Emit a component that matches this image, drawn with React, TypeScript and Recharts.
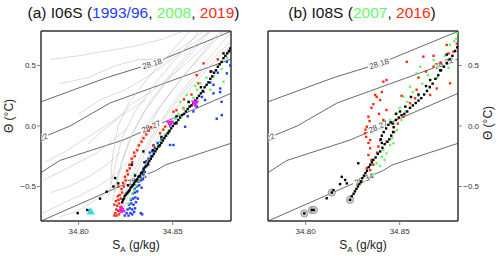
import React from 'react';
import { ComposedChart, Line, ReferenceArea, Scatter, XAxis, YAxis } from 'recharts';

const FONT = '"Liberation Sans", Arial, Helvetica, sans-serif';

// axes
const SA_DOMAIN: [number, number] = [34.78, 34.881];
const T_DOMAIN: [number, number] = [-0.785, 0.785];
const SA_TICKS = [34.8, 34.85];
const T_TICKS = [-0.5, 0, 0.5];
const PLOT_PX = 190;

// neutral density contours [SA, Θ]
const g2818 = [[34.77, 0.13], [34.78, 0.2], [34.815, 0.4], [34.84, 0.52], [34.8806, 0.78], [34.89, 0.84]];
const g2822 = [[34.77, -0.16], [34.78, -0.1], [34.7954, 0.0], [34.8167, 0.19], [34.8806, 0.55], [34.89, 0.6]];
const g2827 = [[34.77, -0.47], [34.78, -0.385], [34.79, -0.285], [34.8236, -0.116], [34.881, 0.27], [34.89, 0.33]];
const g2834 = [[34.77, -0.85], [34.78, -0.785], [34.8415, -0.365], [34.846, -0.322], [34.881, -0.143], [34.89, -0.1]];
const contours: Record<string, number[][]> = { '28.18': g2818, '28.22': g2822, '28.27': g2827, '28.34': g2834 };

const labelsA = [
  { c: '28.18', x: 34.839, y: 0.515, text: '28.18' },
  { c: '28.22', x: 34.7812, y: -0.092, text: '22' },
  { c: '28.27', x: 34.8385, y: -0.005, text: '28.27' },
  { c: '28.34', x: 34.831, y: -0.44, text: '28.34' },
];
const labelsB = [
  { c: '28.18', x: 34.839, y: 0.515, text: '28.18' },
  { c: '28.22', x: 34.7812, y: -0.092, text: '22' },
  { c: '28.22', x: 34.8735, y: 0.52, text: '28.22' },
  { c: '28.27', x: 34.8385, y: -0.005, text: '28.27' },
  { c: '28.34', x: 34.831, y: -0.44, text: '28.34' },
];

// I06S historical profiles (gray)
const profilesA = [
  [[34.8215, -0.7], [34.826, -0.5], [34.833, -0.25], [34.842, 0.0], [34.853, 0.25], [34.866, 0.5], [34.878, 0.72], [34.883, 0.8]],
  [[34.82, -0.66], [34.824, -0.45], [34.83, -0.2], [34.838, 0.05], [34.85, 0.3], [34.863, 0.55], [34.874, 0.76], [34.88, 0.82]],
  [[34.818, -0.62], [34.821, -0.4], [34.826, -0.15], [34.834, 0.1], [34.846, 0.35], [34.86, 0.6], [34.871, 0.8]],
  [[34.816, -0.58], [34.819, -0.35], [34.823, -0.1], [34.83, 0.12], [34.842, 0.38], [34.857, 0.65], [34.866, 0.82]],
  [[34.824, -0.68], [34.829, -0.45], [34.836, -0.2], [34.845, 0.05], [34.856, 0.28], [34.869, 0.52], [34.881, 0.7]],
  [[34.827, -0.64], [34.832, -0.42], [34.84, -0.15], [34.849, 0.08], [34.86, 0.32], [34.873, 0.55], [34.883, 0.7]],
  [[34.8, 0.1], [34.812, 0.22], [34.825, 0.3], [34.838, 0.42], [34.852, 0.58], [34.866, 0.74], [34.874, 0.82]],
  [[34.785, 0.55], [34.8, 0.58], [34.815, 0.62], [34.83, 0.66], [34.845, 0.72], [34.858, 0.8]],
  [[34.79, 0.35], [34.805, 0.4], [34.82, 0.5], [34.832, 0.55], [34.845, 0.55], [34.855, 0.65], [34.868, 0.8]],
  [[34.805, -0.15], [34.812, -0.05], [34.82, 0.05], [34.828, 0.18], [34.84, 0.3], [34.856, 0.5], [34.87, 0.7]],
  [[34.782, -0.3], [34.792, -0.22], [34.802, -0.12], [34.812, -0.02], [34.824, 0.1], [34.836, 0.22]],
  [[34.781, -0.72], [34.79, -0.65], [34.8, -0.58], [34.81, -0.5], [34.818, -0.42], [34.826, -0.3]],
  [[34.785, -0.55], [34.795, -0.5], [34.805, -0.42], [34.815, -0.32], [34.822, -0.22]],
  [[34.79, -0.75], [34.8, -0.7], [34.808, -0.62], [34.815, -0.55], [34.821, -0.45]],
  [[34.781, -0.45], [34.79, -0.38], [34.8, -0.3], [34.81, -0.22], [34.818, -0.12], [34.826, -0.02]],
  [[34.819, -0.55], [34.823, -0.3], [34.829, -0.05], [34.838, 0.2], [34.85, 0.45], [34.864, 0.7], [34.87, 0.8]],
  [[34.822, -0.6], [34.827, -0.35], [34.834, -0.1], [34.843, 0.15], [34.856, 0.42], [34.87, 0.66], [34.878, 0.8]],
  [[34.817, -0.48], [34.818, -0.25], [34.821, 0.0], [34.827, 0.2], [34.838, 0.42], [34.852, 0.66], [34.86, 0.8]],
];

// I06S bottle data
const blackA = [
  [34.8232, -0.63], [34.8236, -0.61], [34.8241, -0.6], [34.8245, -0.58], [34.825, -0.57], [34.8255, -0.56],
  [34.826, -0.55], [34.8266, -0.54], [34.8271, -0.53], [34.8276, -0.51], [34.8282, -0.5], [34.8288, -0.49],
  [34.8294, -0.48], [34.83, -0.46], [34.8306, -0.45], [34.8312, -0.44], [34.8318, -0.42], [34.8325, -0.41],
  [34.8332, -0.39], [34.8339, -0.38], [34.8346, -0.36], [34.8353, -0.34], [34.836, -0.33], [34.8368, -0.31],
  [34.8376, -0.29], [34.8384, -0.27], [34.8392, -0.25], [34.84, -0.23], [34.8408, -0.21], [34.8416, -0.19],
  [34.8424, -0.17], [34.8432, -0.16], [34.844, -0.14], [34.8448, -0.12], [34.8456, -0.1], [34.8465, -0.08],
  [34.8474, -0.06], [34.8483, -0.04], [34.8492, -0.02], [34.8501, 0.0], [34.851, 0.02], [34.852, 0.03],
  [34.853, 0.05], [34.854, 0.07], [34.855, 0.09], [34.856, 0.1], [34.857, 0.12], [34.858, 0.14],
  [34.859, 0.16], [34.86, 0.17], [34.861, 0.19], [34.862, 0.21], [34.863, 0.23], [34.864, 0.25],
  [34.865, 0.27], [34.866, 0.29], [34.867, 0.32], [34.868, 0.34], [34.869, 0.36], [34.87, 0.39],
  [34.871, 0.41], [34.872, 0.44], [34.873, 0.46], [34.874, 0.49], [34.875, 0.51], [34.876, 0.53],
  [34.877, 0.56], [34.878, 0.58], [34.879, 0.6], [34.88, 0.62], [34.8806, 0.64],
  [34.8262, -0.49], [34.83, -0.41], [34.835, -0.3], [34.8395, -0.2], [34.844, -0.09], [34.852, 0.08],
  [34.8585, 0.2], [34.865, 0.32], [34.8705, 0.45], [34.877, 0.6],
  [34.7995, -0.72], [34.8046, -0.694], [34.806, -0.7], [34.8114, -0.6], [34.8149, -0.543], [34.8185, -0.5],
  [34.8211, -0.474], [34.8194, -0.43], [34.8283, -0.32], [34.8344, -0.21],
];
const redA = [
  [34.819, -0.74], [34.8202, -0.74], [34.8215, -0.73], [34.8228, -0.71], [34.8235, -0.69], [34.819, -0.65],
  [34.8198, -0.62], [34.8208, -0.58], [34.8195, -0.72], [34.82, -0.69], [34.821, -0.7], [34.8205, -0.66],
  [34.8215, -0.64], [34.8222, -0.67], [34.8212, -0.61], [34.8225, -0.6], [34.8218, -0.57], [34.8232, -0.55],
  [34.8228, -0.52], [34.824, -0.5], [34.8236, -0.47], [34.825, -0.45], [34.8246, -0.42], [34.8262, -0.4],
  [34.8258, -0.37], [34.8272, -0.35], [34.827, -0.32], [34.8285, -0.3], [34.8282, -0.27], [34.8298, -0.25],
  [34.8295, -0.22], [34.8312, -0.2], [34.832, -0.16], [34.8335, -0.13], [34.8345, -0.1], [34.836, -0.07],
  [34.8372, -0.04], [34.8385, -0.01], [34.8397, -0.16], [34.845, -0.03], [34.846, -0.005], [34.8433, -0.06],
  [34.8504, 0.118], [34.852, 0.13], [34.8557, 0.146], [34.8637, 0.353], [34.8628, 0.42], [34.8664, 0.518],
  [34.8797, 0.614], [34.87, 0.45], [34.874, 0.55], [34.86, 0.26], [34.856, 0.22], [34.8211, -0.5],
];
const blueA = [
  [34.8245, -0.74], [34.8255, -0.72], [34.8265, -0.74], [34.8275, -0.72], [34.8285, -0.73], [34.8295, -0.71],
  [34.826, -0.69], [34.8272, -0.68], [34.8285, -0.69], [34.83, -0.68], [34.833, -0.72], [34.8338, -0.73],
  [34.8268, -0.65], [34.828, -0.64], [34.8292, -0.65], [34.8305, -0.63], [34.8278, -0.61], [34.829, -0.6],
  [34.8302, -0.59], [34.8315, -0.6], [34.8288, -0.56], [34.83, -0.55], [34.8312, -0.54], [34.8298, -0.52],
  [34.831, -0.5], [34.8322, -0.49], [34.8335, -0.51], [34.8318, -0.46], [34.833, -0.45], [34.8342, -0.44],
  [34.8328, -0.42], [34.834, -0.4], [34.8352, -0.38], [34.8345, -0.35], [34.8358, -0.33], [34.837, -0.32],
  [34.836, -0.29], [34.8372, -0.27], [34.8385, -0.25], [34.8378, -0.22], [34.8392, -0.21], [34.8405, -0.18],
  [34.8398, -0.16], [34.842, -0.14], [34.843, -0.157], [34.844, -0.11], [34.8486, -0.157], [34.8504, -0.157],
  [34.846, -0.08], [34.848, -0.05], [34.8566, -0.006], [34.852, 0.02], [34.858, 0.08], [34.861, 0.12],
  [34.8628, 0.16], [34.8655, 0.24], [34.8664, 0.283], [34.8672, 0.215], [34.8717, 0.27], [34.8717, 0.34],
  [34.8734, 0.06], [34.8752, 0.28], [34.8753, 0.31], [34.876, 0.2], [34.8761, 0.09], [34.8788, 0.435],
  [34.8788, 0.53], [34.8806, 0.5], [34.87, 0.36], [34.874, 0.44],
];
const greenA = [
  [34.8265, -0.64], [34.8275, -0.6], [34.8285, -0.56], [34.8295, -0.53], [34.8305, -0.49], [34.8318, -0.45],
  [34.833, -0.41], [34.8342, -0.38], [34.8355, -0.34], [34.8368, -0.3], [34.838, -0.27], [34.8392, -0.24],
  [34.8406, -0.2], [34.842, -0.16], [34.8434, -0.13], [34.8448, -0.1], [34.8462, -0.07], [34.8476, -0.04],
  [34.8486, -0.006], [34.85, 0.03], [34.8515, 0.06], [34.854, 0.2], [34.853, 0.1], [34.8558, 0.14],
  [34.8575, 0.256], [34.8585, 0.19], [34.861, 0.23], [34.8646, 0.353], [34.863, 0.3], [34.8717, 0.41],
  [34.87, 0.3], [34.877, 0.366], [34.876, 0.47], [34.879, 0.56], [34.868, 0.4], [34.862, 0.33], [34.83, -0.4],
];
const magentaDownA = [[34.8486, 0.022], [34.8619, 0.188]];
const magentaUpA = [[34.8229, -0.689]];
const cyanUpA = [[34.8064, -0.708]];

// I08S bottle data
const circledB = [[34.7993, -0.722], [34.8034, -0.694], [34.8044, -0.694], [34.8139, -0.55], [34.8236, -0.61]];
const blackB = [
  [34.8236, -0.61], [34.8245, -0.58], [34.8255, -0.56], [34.8262, -0.54], [34.827, -0.52], [34.8278, -0.5],
  [34.8286, -0.48], [34.8294, -0.46], [34.8302, -0.43], [34.831, -0.41], [34.8318, -0.39], [34.8326, -0.37],
  [34.8335, -0.34], [34.8344, -0.32], [34.8352, -0.3], [34.836, -0.28], [34.8372, -0.26], [34.8384, -0.23],
  [34.8396, -0.21], [34.8408, -0.18], [34.842, -0.15],
  [34.8405, -0.14], [34.84, -0.11], [34.8405, -0.08], [34.8415, -0.05], [34.8428, -0.02], [34.844, 0.01],
  [34.8452, 0.03], [34.8462, 0.02], [34.8468, -0.01], [34.8465, -0.05], [34.8455, -0.08], [34.8445, -0.11],
  [34.8435, -0.13],
  [34.848, 0.05], [34.8495, 0.07], [34.851, 0.09], [34.8525, 0.1], [34.854, 0.12], [34.8555, 0.15],
  [34.857, 0.17], [34.8585, 0.19], [34.86, 0.21], [34.8615, 0.23], [34.863, 0.26], [34.8645, 0.29],
  [34.866, 0.32], [34.8675, 0.35], [34.869, 0.39], [34.8705, 0.42], [34.872, 0.46], [34.8735, 0.49],
  [34.875, 0.52], [34.8765, 0.55], [34.878, 0.58], [34.8795, 0.62], [34.8806, 0.65],
  [34.8502, 0.12], [34.853, 0.16], [34.86, 0.26], [34.8662, 0.38], [34.8715, 0.46], [34.875, 0.59],
  [34.848, 0.1], [34.856, 0.24], [34.864, 0.33],
  [34.7993, -0.722], [34.8034, -0.694], [34.8044, -0.694], [34.8139, -0.55], [34.8112, -0.597], [34.8148, -0.53],
  [34.8183, -0.48], [34.8192, -0.42], [34.821, -0.446], [34.8219, -0.474], [34.828, -0.308],
];
const redB = [
  [34.8413, 0.366], [34.843, 0.38], [34.837, 0.256], [34.8378, 0.24], [34.8396, 0.215], [34.835, 0.15],
  [34.8334, 0.077], [34.834, 0.04], [34.8325, -0.006], [34.8318, -0.03], [34.8316, -0.06], [34.8322, -0.09],
  [34.8343, -0.116], [34.8387, -0.17], [34.8413, 0.05], [34.843, 0.132], [34.839, 0.1], [34.836, 0.18],
  [34.8405, 0.28], [34.8538, 0.53], [34.8626, 0.573], [34.868, 0.49], [34.875, 0.67], [34.8786, 0.614],
  [34.8804, 0.68], [34.8768, 0.353], [34.8697, 0.31], [34.8662, 0.256], [34.8582, 0.229], [34.8555, 0.188],
  [34.852, 0.077], [34.8334, -0.14], [34.8343, -0.184], [34.8334, -0.24], [34.8325, -0.35], [34.8343, -0.364],
  [34.8396, -0.116], [34.843, -0.13], [34.835, -0.28], [34.836, -0.32], [34.838, -0.22], [34.847, -0.05],
  [34.849, 0.02], [34.86, 0.4], [34.864, 0.45], [34.872, 0.52], [34.876, 0.6], [34.868, 0.58],
  [34.859, 0.3], [34.851, 0.25],
];
const greenB = [
  [34.8449, 0.05], [34.8485, 0.105], [34.852, 0.243], [34.8555, 0.325], [34.859, 0.435], [34.8609, 0.49],
  [34.868, 0.545], [34.8768, 0.67], [34.8804, 0.766], [34.8485, -0.033], [34.8467, -0.143], [34.8413, -0.198],
  [34.8405, -0.254], [34.8378, -0.308], [34.8343, -0.364], [34.843, -0.226], [34.8449, -0.157], [34.85, 0.15],
  [34.854, 0.2], [34.857, 0.28], [34.862, 0.35], [34.865, 0.42], [34.87, 0.5], [34.874, 0.58],
  [34.879, 0.7], [34.847, 0.02], [34.851, 0.05], [34.853, 0.12], [34.86, 0.25], [34.866, 0.33],
  [34.87, 0.4], [34.876, 0.48], [34.846, -0.1], [34.842, -0.28], [34.8395, -0.33], [34.836, -0.4], [34.88, 0.72],
];

const C_BLUE = '#1f3cff';
const C_GREEN = '#66f766';
const C_RED = '#ff2a10';
const C_MAGENTA = '#f01af0';
const C_CYAN = '#2ee0e0';

const toXY = (a: number[][]) => a.map(([x, y]) => ({ x, y }));

const PX_SA = PLOT_PX / (SA_DOMAIN[1] - SA_DOMAIN[0]);
const PX_T = PLOT_PX / (T_DOMAIN[1] - T_DOMAIN[0]);

function labelAngle(c: string, x: number) {
  const pts = contours[c];
  let i = 0;
  while (i < pts.length - 2 && pts[i + 1][0] < x) i++;
  const m = (pts[i + 1][1] - pts[i][1]) / (pts[i + 1][0] - pts[i][0]);
  return (-Math.atan((m * PX_T) / PX_SA) * 180) / Math.PI;
}

const ContourLabel = (props: any) => {
  const { cx, cy, payload } = props;
  const w = payload.text.length * 4.3;
  return (
    <g transform={`translate(${cx},${cy}) rotate(${labelAngle(payload.c, payload.x)})`}>
      <rect x={-w / 2 - 1} y={-3.5} width={w + 2} height={7} fill="#fff" />
      <text textAnchor="middle" dy={2.8} fontSize={8} fill="#444" fontFamily={FONT}>
        {payload.text}
      </text>
    </g>
  );
};

const Sq = (props: any) => <rect x={props.cx - 1.2} y={props.cy - 1.2} width={2.4} height={2.4} fill={props.fill} />;
const TriUp = (props: any) => (
  <polygon points={`${props.cx},${props.cy - 4.5} ${props.cx - 4.2},${props.cy + 2.8} ${props.cx + 4.2},${props.cy + 2.8}`} fill={props.fill} />
);
const TriDown = (props: any) => (
  <polygon points={`${props.cx},${props.cy + 4.5} ${props.cx - 4.2},${props.cy - 2.8} ${props.cx + 4.2},${props.cy - 2.8}`} fill={props.fill} />
);
const Ring = (props: any) => <circle cx={props.cx} cy={props.cy} r={3.6} fill="#cfcfcf" stroke="#8a8a8a" strokeWidth={0.8} />;

const fmtT = (v: number) => (v === 0 ? '0.0' : v < 0 ? `\u2212${(-v).toFixed(1)}` : v.toFixed(1));

const XTick = (p: any) => (
  <text x={p.x} y={p.y + 7} textAnchor="middle" fontSize={8} fill="#333" fontFamily={FONT}>
    {p.payload.value.toFixed(2)}
  </text>
);
const LeftTick = (p: any) => (
  <text x={p.x + 1} y={p.y + 2.8} textAnchor="end" fontSize={8} fill="#333" fontFamily={FONT}>
    {fmtT(p.payload.value)}
  </text>
);
const RightTick = (p: any) => (
  <text x={p.x + 15} y={p.y + 2.8} textAnchor="end" fontSize={8} fill="#333" fontFamily={FONT}>
    {fmtT(p.payload.value)}
  </text>
);

const AXIS = { stroke: '#333', strokeWidth: 1 };
const TICK = { stroke: '#666', strokeWidth: 0.8 };

// contours go on the top/opposite axes so that those axes get drawn too
function contourLines() {
  return Object.keys(contours).map((k) => (
    <Line key={k} xAxisId="top" yAxisId="other" data={toXY(contours[k])} dataKey="y" stroke="#444"
      strokeWidth={0.8} dot={false} isAnimationActive={false} />
  ));
}

function Panel({ left, labelSide, children }: { left: number; labelSide: 'left' | 'right'; children: React.ReactNode }) {
  const isLeft = labelSide === 'left';
  return (
    <div style={{ position: 'absolute', left, top: 0 }}>
      <ComposedChart
        width={250}
        height={256}
        margin={isLeft ? { top: 30, right: 18, bottom: 0, left: 0 } : { top: 30, right: 0, bottom: 0, left: 17 }}
      >
        <XAxis dataKey="x" type="number" domain={SA_DOMAIN} allowDataOverflow ticks={SA_TICKS} height={35}
          tickSize={4} tickMargin={2} axisLine={AXIS} tickLine={TICK} tick={XTick} />
        <XAxis xAxisId="top" dataKey="x" orientation="top" type="number" domain={SA_DOMAIN} allowDataOverflow
          ticks={SA_TICKS} height={1} tickSize={4} axisLine={AXIS} tickLine={TICK} tick={false} />
        <YAxis dataKey="y" type="number" orientation={labelSide} domain={T_DOMAIN} allowDataOverflow ticks={T_TICKS}
          width={isLeft ? 41 : 42} tickSize={4} tickMargin={2} axisLine={AXIS} tickLine={TICK}
          tick={isLeft ? LeftTick : RightTick} />
        <YAxis yAxisId="other" dataKey="y" orientation={isLeft ? 'right' : 'left'} type="number" domain={T_DOMAIN}
          allowDataOverflow ticks={T_TICKS} width={1} tickSize={4} axisLine={AXIS} tickLine={TICK} tick={false} />
        <ReferenceArea x1={SA_DOMAIN[0]} x2={SA_DOMAIN[1]} y1={T_DOMAIN[0]} y2={T_DOMAIN[1]}
          fill="none" fillOpacity={0} stroke="#333" strokeWidth={1} ifOverflow="visible" />
        {children}
      </ComposedChart>
    </div>
  );
}

export default function App() {
  return (
    <div style={{ position: 'absolute', left: 0, top: 0, width: 500, height: 256, background: '#fff', fontFamily: FONT }}>
      <Panel left={0} labelSide="left">
        {contourLines()}
        {profilesA.map((p, i) => (
          <Line key={`p${i}`} data={toXY(p)} dataKey="y" stroke="#c2c2c2" strokeWidth={0.6} dot={false} isAnimationActive={false} />
        ))}
        <Scatter data={labelsA} shape={ContourLabel} isAnimationActive={false} />
        <Scatter data={toXY(blueA)} fill={C_BLUE} shape={Sq} isAnimationActive={false} />
        <Scatter data={toXY(redA)} fill={C_RED} shape={Sq} isAnimationActive={false} />
        <Scatter data={toXY(greenA)} fill={C_GREEN} shape={Sq} isAnimationActive={false} />
        <Scatter data={toXY(blackA)} fill="#000" shape={Sq} isAnimationActive={false} />
        <Scatter data={toXY(magentaDownA)} fill={C_MAGENTA} shape={TriDown} isAnimationActive={false} />
        <Scatter data={toXY(magentaUpA)} fill={C_MAGENTA} shape={TriUp} isAnimationActive={false} />
        <Scatter data={toXY(cyanUpA)} fill={C_CYAN} shape={TriUp} isAnimationActive={false} />
      </Panel>
      <Panel left={250} labelSide="right">
        {contourLines()}
        <Scatter data={labelsB} shape={ContourLabel} isAnimationActive={false} />
        <Scatter data={toXY(circledB)} shape={Ring} isAnimationActive={false} />
        <Scatter data={toXY(greenB)} fill={C_GREEN} shape={Sq} isAnimationActive={false} />
        <Scatter data={toXY(redB)} fill={C_RED} shape={Sq} isAnimationActive={false} />
        <Scatter data={toXY(blackB)} fill="#000" shape={Sq} isAnimationActive={false} />
      </Panel>
      <svg width={500} height={256} style={{ position: 'absolute', left: 0, top: 0, pointerEvents: 'none' }} fontFamily={FONT}>
        <text x={133.5} y={18} textAnchor="middle" fontSize={15.5} fill="#111">
          (a) I06S (<tspan fill={C_BLUE}>1993/96</tspan>, <tspan fill={C_GREEN}>2008</tspan>, <tspan fill={C_RED}>2019</tspan>)
        </text>
        <text x={362} y={18} textAnchor="middle" fontSize={15.5} fill="#111">
          (b) I08S (<tspan fill={C_GREEN}>2007</tspan>, <tspan fill={C_RED}>2016</tspan>)
        </text>
        {[136, 363].map((cx) => (
          <text key={cx} x={cx} y={249} textAnchor="middle" fontSize={12} fill="#222">
            S<tspan fontSize={8} dy={3}>A</tspan><tspan dy={-3}> (g/kg)</tspan>
          </text>
        ))}
        <text transform="translate(13,116) rotate(-90)" textAnchor="middle" fontSize={12} fill="#222">Θ (°C)</text>
        <text transform="translate(492,123) rotate(-90)" textAnchor="middle" fontSize={12} fill="#222">Θ (°C)</text>
      </svg>
    </div>
  );
}
